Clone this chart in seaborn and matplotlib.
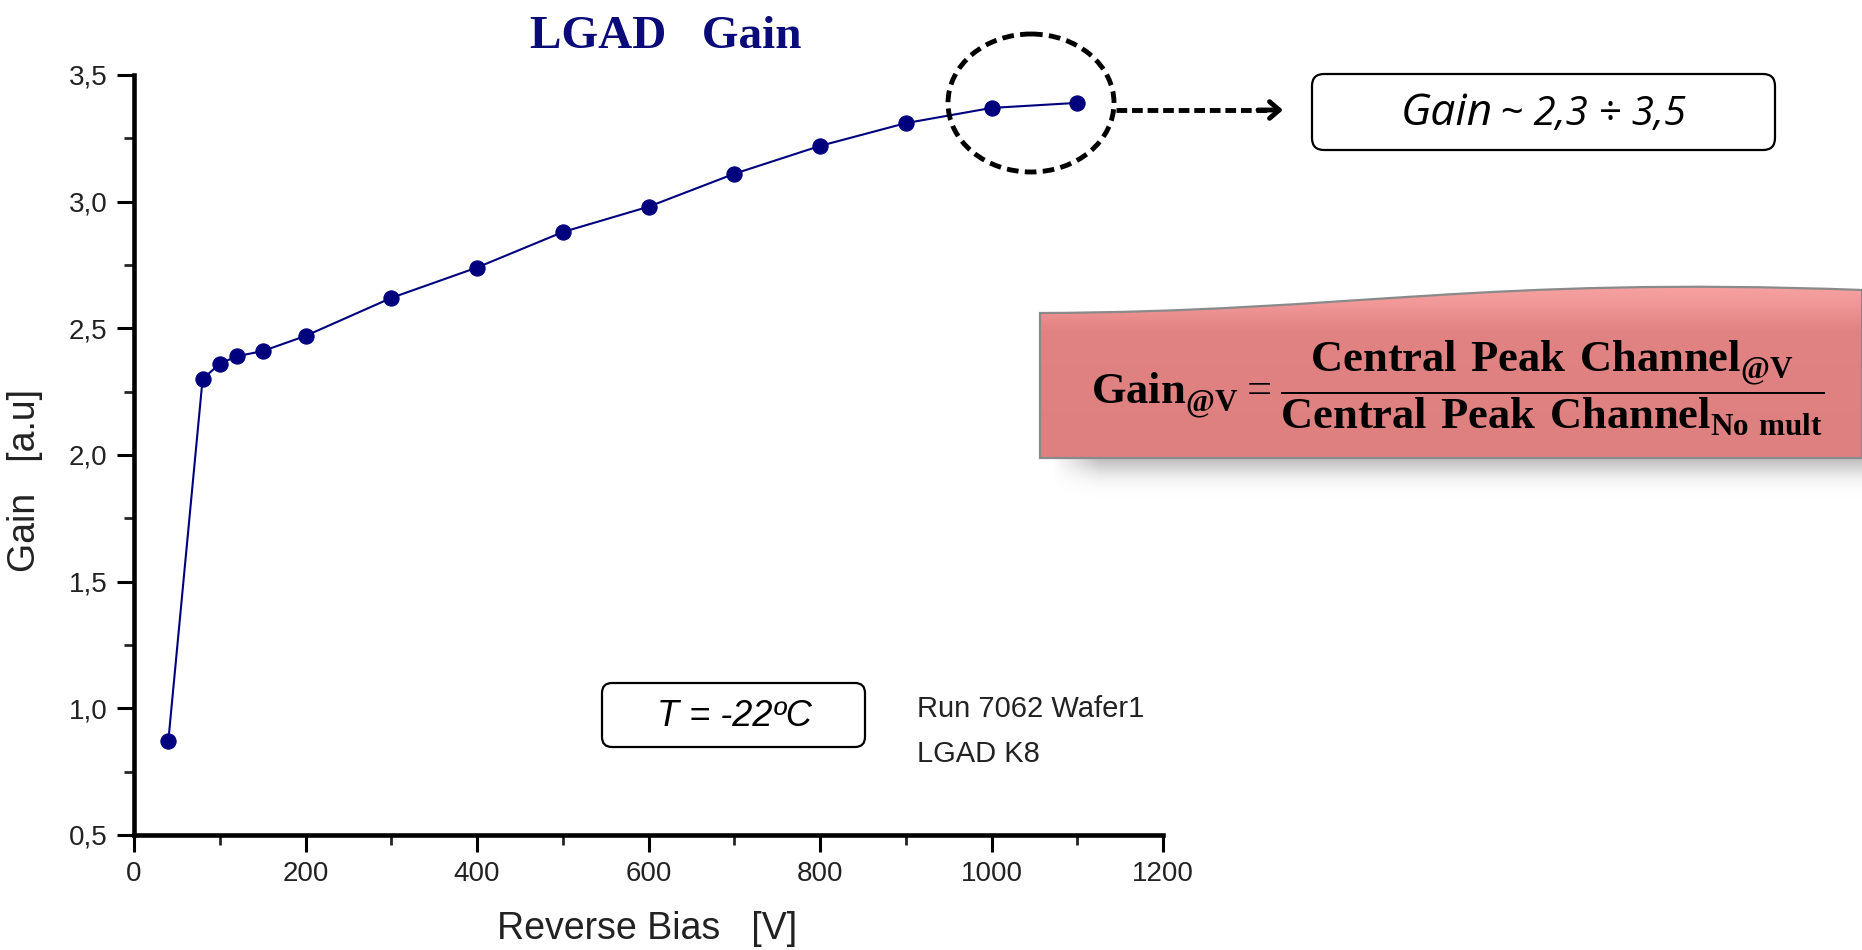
import numpy as np
import pandas as pd
import matplotlib
matplotlib.use("Agg")
import matplotlib.pyplot as plt
import seaborn as sns
from matplotlib.patches import Ellipse, FancyBboxPatch, PathPatch
from matplotlib.path import Path
from matplotlib.lines import Line2D
from matplotlib.ticker import MultipleLocator, FuncFormatter, FixedLocator
from matplotlib.colors import LinearSegmentedColormap

# ---------------- data ----------------
bias_v = [40, 80, 100, 120, 150, 200, 300, 400, 500, 600, 700, 800, 900, 1000, 1100]
gain = [0.87, 2.30, 2.36, 2.39, 2.41, 2.47, 2.62, 2.74, 2.88, 2.98, 3.11, 3.22, 3.31, 3.37, 3.39]
x_ticks = [0, 200, 400, 600, 800, 1000, 1200]
y_ticks = [0.5, 1.0, 1.5, 2.0, 2.5, 3.0, 3.5]
title_text = "LGAD   Gain"
x_label = "Reverse Bias   [V]"
y_label = "Gain   [a.u]"
temp_text = "T = -22ºC"
run_lines = ["Run 7062 Wafer1", "LGAD K8"]
gain_range_big = "Gain"
gain_range_small = "~ 2,3 ÷ 3,5"

# ---------------- style ----------------
sns.set_style("ticks")
plt.rcParams["font.family"] = ["Liberation Sans", "DejaVu Sans"]
plt.rcParams["mathtext.fontset"] = "custom"
plt.rcParams["mathtext.bf"] = "Liberation Serif:bold"
plt.rcParams["mathtext.rm"] = "Liberation Serif"

W, H = 1862, 950
fig = plt.figure(figsize=(W / 100, H / 100), dpi=100)
fig.patch.set_facecolor("white")

ax = fig.add_axes([134 / W, 1 - 835 / H, 1029 / W, 760 / H])
ax.set_facecolor("none")

df = pd.DataFrame({"bias": bias_v, "gain": gain})
sns.lineplot(data=df, x="bias", y="gain", ax=ax, color="#00007f", linewidth=1.5,
             marker="o", markersize=11, markeredgecolor="#00007f", markerfacecolor="#00007f",
             sort=False, zorder=5)

ax.set_xlim(x_ticks[0], x_ticks[-1])
ax.set_ylim(y_ticks[0], y_ticks[-1])
ax.xaxis.set_major_locator(FixedLocator(x_ticks))
ax.yaxis.set_major_locator(FixedLocator(y_ticks))
ax.xaxis.set_minor_locator(MultipleLocator(100))
ax.yaxis.set_minor_locator(MultipleLocator(0.25))
ax.xaxis.set_major_formatter(FuncFormatter(lambda v, p: f"{int(v)}"))
ax.yaxis.set_major_formatter(FuncFormatter(lambda v, p: f"{v:.1f}".replace(".", ",")))

sns.despine(ax=ax)
for s in ("left", "bottom"):
    ax.spines[s].set_linewidth(3.3)
    ax.spines[s].set_color("black")
ax.tick_params(axis="both", which="major", length=12, width=2.2, direction="out",
               labelsize=20, pad=7, colors="black")
ax.tick_params(axis="both", which="minor", length=7, width=2.0, direction="out")
for lab in ax.get_xticklabels() + ax.get_yticklabels():
    lab.set_color("#222222")

ax.set_xlabel(x_label, fontsize=27, color="#222222")
ax.set_ylabel(y_label, fontsize=27, color="#222222")
ax.xaxis.set_label_coords(0.4985, -0.100)
ax.yaxis.set_label_coords(-0.088, 0.466)

fig.text(666 / W, 1 - 37 / H, title_text, ha="center", va="center",
         fontsize=34, fontweight="bold", family=["Liberation Serif"], color="#0a0a7a")

# ---------------- overlay annotations (pixel coords) ----------------
ov = fig.add_axes([0, 0, 1, 1], zorder=10)
ov.set_xlim(0, W)
ov.set_ylim(H, 0)
ov.axis("off")
ov.patch.set_alpha(0)

# dashed ellipse around the last points
ov.add_patch(Ellipse((1031, 103), 166, 138, fill=False, ec="black", lw=3.5,
                     ls=(0, (2.4, 1.3))))
# dashed arrow
ov.add_line(Line2D([1116, 1268], [110, 110], color="black", lw=3.5, ls=(0, (2.2, 1.0))))
ov.annotate("", xy=(1283, 110), xytext=(1258, 110),
            arrowprops=dict(arrowstyle="->,head_length=0.7,head_width=0.6",
                            lw=3.5, color="black", shrinkA=0, shrinkB=0))

# gain range box
ov.add_patch(FancyBboxPatch((1312, 74), 463, 76, boxstyle="round,pad=0,rounding_size=12",
                            fc="white", ec="black", lw=1.6))
ov.text(1493, 125, gain_range_big, ha="right", va="baseline", fontsize=32,
        style="italic", family=["Open Sans", "DejaVu Sans"], color="black")
ov.text(1500, 125, gain_range_small, ha="left", va="baseline", fontsize=29,
        style="italic", family=["Open Sans", "DejaVu Sans"], color="black")

# temperature box
ov.add_patch(FancyBboxPatch((602, 683), 263, 64, boxstyle="round,pad=0,rounding_size=10",
                            fc="white", ec="black", lw=1.6))
ov.text(734, 716, temp_text, ha="center", va="center", fontsize=26, style="italic",
        color="black")
ov.text(917, 709, run_lines[0], ha="left", va="center", fontsize=21, color="#222222")
ov.text(917, 754, run_lines[1], ha="left", va="center", fontsize=21, color="#222222")

# pink formula banner with wavy top
verts = [(1040, 458), (1040, 313),
         (1350, 312), (1480, 276), (1862, 290),
         (1862, 458), (1040, 458)]
codes = [Path.MOVETO, Path.LINETO, Path.CURVE4, Path.CURVE4, Path.CURVE4,
         Path.LINETO, Path.CLOSEPOLY]
banner_path = Path(verts, codes)

# soft shadow below the banner
sh = np.zeros((60, 200, 4))
yy = np.linspace(0, 1, 60)[:, None]
xx = np.linspace(0, 1, 200)[None, :]
alpha = 0.5 * np.exp(-(yy / 0.4) ** 2) * np.clip(xx / 0.06, 0, 1)
sh[..., :3] = 0.45
sh[..., 3] = alpha
ov.imshow(sh, extent=[1050, 1862, 505, 452], aspect="auto", zorder=1, interpolation="bilinear")

cmap = LinearSegmentedColormap.from_list("pink", ["#f9a6a6", "#f29898", "#e18383", "#df8080"])
g2 = np.concatenate([np.linspace(0, 0.7, 80), np.linspace(0.7, 1.0, 176)])[:, None] * np.ones((1, 4))
im = ov.imshow(g2, extent=[1040, 1862, 458, 276], cmap=cmap, aspect="auto",
               zorder=2, origin="upper", vmin=0, vmax=1)
bp = PathPatch(banner_path, fc="none", ec="#8a8a8a", lw=1.6, zorder=3)
ov.add_patch(bp)
im.set_clip_path(bp)

formula = (r"$\mathbf{Gain}_{\mathbf{@V}}=\dfrac{\mathbf{Central\ Peak\ Channel}_{\mathbf{@V}}}"
           r"{\mathbf{Central\ Peak\ Channel}_{\mathbf{No\ mult}}}$")
ov.text(1458, 388, formula, ha="center", va="center", fontsize=32, color="black", zorder=4)

ov.set_xlim(0, W)
ov.set_ylim(H, 0)

fig.savefig("out.png", dpi=100)
